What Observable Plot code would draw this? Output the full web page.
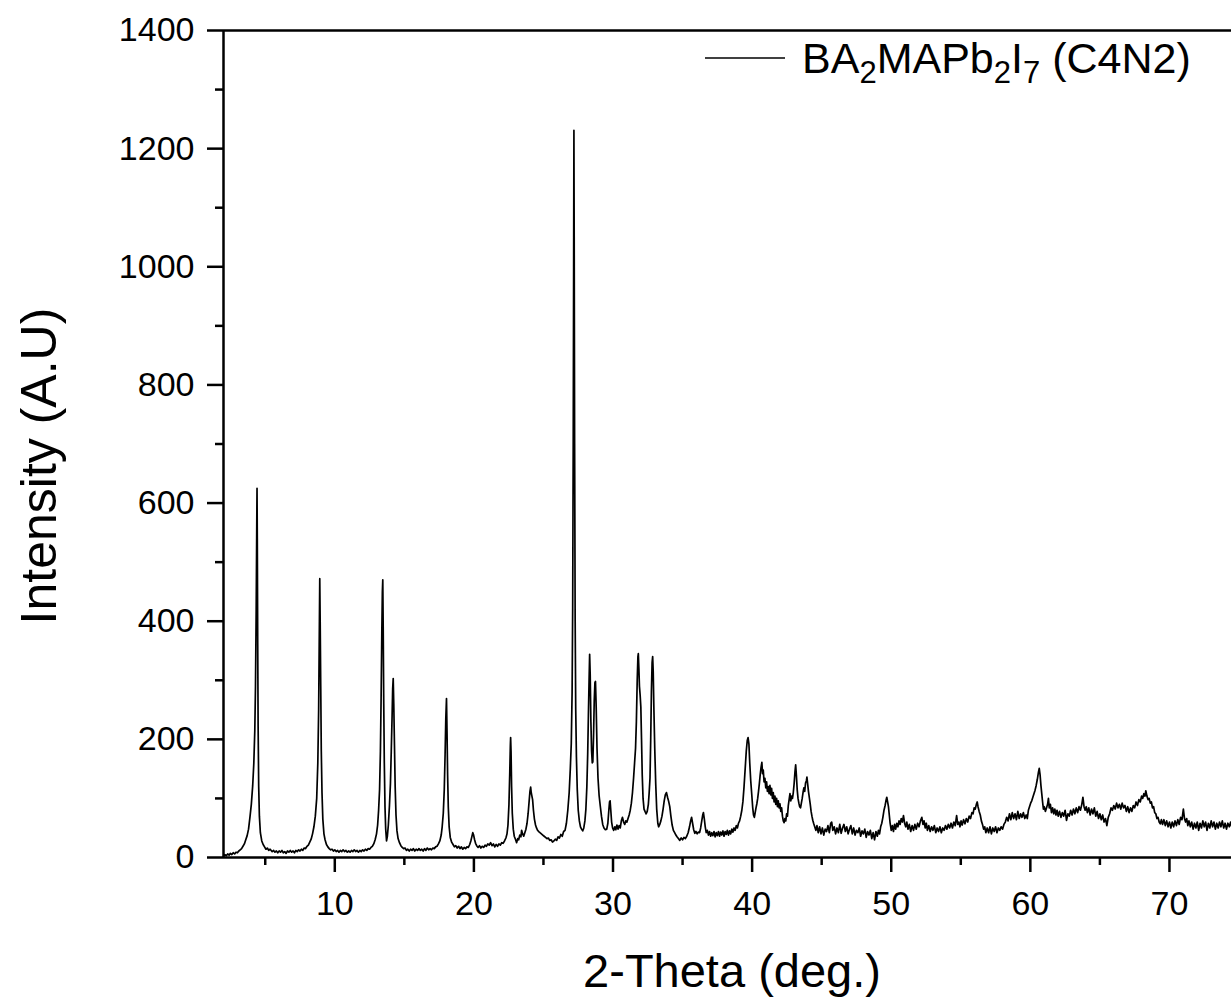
<!DOCTYPE html>
<html><head><meta charset="utf-8">
<script src="https://cdn.jsdelivr.net/npm/d3@7"></script>
<script src="https://cdn.jsdelivr.net/npm/@observablehq/plot@0.6"></script>
<style>
body{margin:0;background:#fff;overflow:hidden}
#chart{width:1231px;height:1000px;overflow:hidden}
#chart svg{overflow:hidden}
</style>
</head><body><div id="chart"></div>
<script>
// 2-Theta (deg.) / Intensity (A.U) pairs
const lowAngle = [[2.0,2],[2.1,5],[2.2,3],[2.3,6],[2.4,4],[2.5,7],[2.6,5],[2.7,8],[2.8,6],[2.9,9],[3.0,8],[3.1,11],[3.2,13],[3.3,15],[3.4,19],[3.5,23],[3.6,30],[3.7,37],[3.8,48],[3.9,68],[4.0,90],[4.1,122],[4.18,160],[4.25,215],[4.3,290],[4.35,420],[4.39,560],[4.41,625],[4.43,540],[4.46,360],[4.49,220],[4.53,120],[4.58,70],[4.65,42],[4.75,28],[4.85,22],[4.95,18],[5.05,14],[5.15,16],[5.25,12],[5.35,14],[5.5,10],[5.6,12],[5.7,9],[5.8,11],[5.9,8],[6.0,11],[6.1,9],[6.2,12],[6.3,8],[6.4,10],[6.5,7],[6.6,11],[6.7,9],[6.8,12],[6.9,9],[7.0,11],[7.1,8],[7.2,12],[7.3,10],[7.4,13],[7.5,11],[7.6,14],[7.7,12],[7.8,16],[7.9,15],[8.0,19],[8.1,21],[8.2,26],[8.3,31],[8.4,40],[8.5,52],[8.6,70],[8.7,100],[8.78,160],[8.84,250],[8.88,360],[8.92,472],[8.95,400],[8.99,290],[9.03,180],[9.08,110],[9.14,65],[9.22,40],[9.3,30],[9.4,22],[9.5,18],[9.6,15],[9.7,13],[9.8,14],[9.9,11],[10.0,13],[10.1,10],[10.2,12],[10.3,9],[10.4,12],[10.5,10],[10.6,13],[10.7,10],[10.8,12],[10.9,9],[11.0,11],[11.1,9],[11.2,12],[11.3,10],[11.4,13],[11.5,10],[11.6,12],[11.7,9],[11.8,12],[11.9,10],[12.0,13],[12.1,11],[12.2,14],[12.3,12],[12.4,15],[12.5,14],[12.6,17],[12.7,19],[12.8,23],[12.9,30],[13.0,40],[13.08,55],[13.15,80],[13.22,115],[13.28,180],[13.33,270],[13.38,380],[13.42,450],[13.45,470],[13.48,390],[13.52,260],[13.56,160],[13.61,85],[13.66,48],[13.72,28],[13.78,36],[13.85,55],[13.93,88],[14.0,125],[14.06,180],[14.12,240],[14.16,285],[14.2,303],[14.24,260],[14.29,190],[14.34,120],[14.4,72],[14.47,45],[14.55,32],[14.65,25],[14.75,20],[14.85,17],[14.95,15],[15.05,16],[15.15,12],[15.25,14],[15.35,11],[15.45,14],[15.55,12],[15.65,15],[15.75,11],[15.85,14],[15.95,12],[16.05,15],[16.15,12],[16.25,14],[16.35,11],[16.45,15],[16.55,12],[16.65,16],[16.75,13],[16.85,15],[16.95,13],[17.05,16],[17.15,15],[17.25,18],[17.35,19],[17.45,23],[17.55,28],[17.65,38],[17.72,52],[17.8,75],[17.87,115],[17.93,175],[17.98,235],[18.03,269],[18.07,210],[18.11,140],[18.16,85],[18.22,52],[18.3,34],[18.4,26],[18.5,22],[18.6,18],[18.7,20],[18.8,16],[18.9,19],[19.0,15],[19.1,18],[19.2,14],[19.3,17],[19.4,15],[19.5,18],[19.6,17],[19.7,22],[19.78,28],[19.85,35],[19.92,42],[19.98,38],[20.05,30]];

const midAngle = [[20.12,24],[20.2,20],[20.3,17],[20.4,20],[20.5,16],[20.6,19],[20.7,17],[20.8,21],[20.9,19],[21.0,23],[21.1,21],[21.2,25],[21.3,20],[21.4,23],[21.5,18],[21.6,22],[21.7,19],[21.8,23],[21.9,21],[22.0,25],[22.1,24],[22.2,28],[22.3,33],[22.38,40],[22.45,55],[22.52,90],[22.58,145],[22.62,190],[22.64,203],[22.67,180],[22.71,120],[22.76,75],[22.83,48],[22.9,36],[23.0,30],[23.07,25],[23.15,32],[23.22,30],[23.3,38],[23.38,35],[23.43,46],[23.5,40],[23.58,36],[23.66,42],[23.74,48],[23.82,58],[23.9,75],[23.97,95],[24.03,112],[24.08,119],[24.12,110],[24.17,104],[24.22,98],[24.28,80],[24.35,65],[24.43,55],[24.5,50],[24.58,46],[24.66,44],[24.75,42],[24.85,40],[24.95,38],[25.05,36],[25.15,34],[25.25,32],[25.35,33],[25.45,29],[25.55,30],[25.65,26],[25.75,28],[25.85,31],[25.95,29],[26.05,35],[26.15,33],[26.25,39],[26.35,36],[26.45,44],[26.55,46],[26.65,58],[26.75,80],[26.85,110],[26.93,150],[27.0,193],[27.06,280],[27.1,420],[27.14,700],[27.17,1000],[27.19,1231],[27.21,1050],[27.24,700],[27.28,400],[27.32,250],[27.37,170],[27.43,115],[27.5,80],[27.58,62],[27.66,52],[27.74,48],[27.82,45],[27.9,50],[27.98,62],[28.05,82],[28.12,120],[28.18,175],[28.23,240],[28.28,300],[28.32,344],[28.36,310],[28.41,230],[28.46,180],[28.51,160],[28.55,162],[28.6,205],[28.65,265],[28.7,296],[28.74,298],[28.79,255],[28.85,185],[28.92,135],[29.0,105],[29.08,88],[29.17,70],[29.26,56],[29.35,50],[29.45,47],[29.55,48],[29.63,58],[29.7,80],[29.75,94],[29.79,96],[29.84,80],[29.9,60],[29.97,50],[30.05,46],[30.13,52],[30.2,47],[30.28,55],[30.36,48],[30.44,54],[30.52,50],[30.6,62],[30.68,68],[30.76,60],[30.84,56],[30.92,62],[31.0,60],[31.08,66],[31.16,72],[31.24,80],[31.32,92],[31.4,110],[31.48,135],[31.55,160],[31.62,185],[31.68,230],[31.74,300],[31.79,340],[31.82,345],[31.86,320],[31.9,290],[31.95,275],[32.0,255],[32.05,200],[32.1,140],[32.16,100],[32.23,82],[32.3,78],[32.38,74],[32.46,78],[32.54,90],[32.6,110],[32.66,135],[32.71,200],[32.76,280],[32.81,330],[32.85,340],[32.89,315],[32.94,250],[33.0,185],[33.07,125],[33.14,82],[33.22,58],[33.28,52],[33.36,56],[33.44,62],[33.52,70],[33.6,82],[33.68,96],[33.76,106],[33.84,110],[33.92,102],[34.0,95],[34.08,86],[34.16,70],[34.25,55],[34.34,46],[34.43,42],[34.52,38],[34.6,35],[34.7,32],[34.8,29],[34.9,33],[35.0,30],[35.1,34],[35.2,32],[35.3,36],[35.4,42],[35.5,52],[35.58,62],[35.65,68],[35.72,58],[35.8,47],[35.88,41],[35.96,44],[36.05,40],[36.14,43],[36.22,42],[36.3,50],[36.38,62],[36.45,72],[36.5,76],[36.56,66],[36.63,52],[36.7,42],[36.78,46],[36.86,38],[36.94,44],[37.02,36],[37.1,42],[37.18,37],[37.26,44],[37.34,35],[37.42,42],[37.5,37],[37.58,44],[37.66,36],[37.74,43],[37.82,38],[37.9,45],[37.98,36],[38.06,44],[38.14,39],[38.22,46],[38.3,38],[38.38,45],[38.46,40],[38.54,48],[38.62,43],[38.7,50],[38.78,46],[38.86,54],[38.94,50],[39.02,58],[39.1,62],[39.18,70],[39.26,80],[39.34,95],[39.42,120],[39.5,150],[39.58,180],[39.65,198],[39.71,203],[39.77,192],[39.83,160],[39.9,130],[39.97,108],[40.04,85],[40.1,72],[40.16,68]];

const highAngle = [[40.22,76],[40.28,84],[40.34,91],[40.4,100],[40.46,112],[40.52,125],[40.58,140],[40.64,152],[40.7,161],[40.75,142],[40.8,148],[40.86,128],[40.92,134],[40.98,118],[41.04,128],[41.1,112],[41.16,120],[41.22,108],[41.28,122],[41.34,106],[41.4,117],[41.46,100],[41.52,110],[41.58,94],[41.64,104],[41.7,90],[41.76,100],[41.82,86],[41.88,96],[41.94,84],[42.0,91],[42.06,78],[42.12,84],[42.18,70],[42.24,62],[42.3,59],[42.36,66],[42.42,62],[42.48,74],[42.54,70],[42.6,88],[42.66,98],[42.72,108],[42.78,96],[42.84,104],[42.9,100],[42.96,110],[43.02,125],[43.08,145],[43.13,157],[43.18,140],[43.24,115],[43.3,100],[43.36,92],[43.42,86],[43.48,84],[43.54,92],[43.6,100],[43.66,110],[43.72,118],[43.78,112],[43.84,126],[43.9,130],[43.94,136],[43.99,125],[44.05,112],[44.12,100],[44.18,90],[44.24,78],[44.3,70],[44.36,63],[44.42,58],[44.5,52],[44.58,46],[44.66,54],[44.75,42],[44.85,52],[44.95,40],[45.05,50],[45.15,38],[45.25,48],[45.35,44],[45.45,54],[45.55,42],[45.65,58],[45.72,60],[45.8,46],[45.9,52],[46.0,40],[46.1,50],[46.2,42],[46.3,56],[46.4,41],[46.5,50],[46.6,56],[46.7,44],[46.8,52],[46.9,40],[47.0,48],[47.1,54],[47.2,40],[47.3,50],[47.4,38],[47.5,46],[47.6,42],[47.7,50],[47.8,36],[47.9,45],[48.0,40],[48.1,48],[48.2,34],[48.3,44],[48.4,38],[48.5,46],[48.6,32],[48.7,42],[48.8,30],[48.9,44],[49.0,36],[49.08,46],[49.16,40],[49.24,52],[49.32,58],[49.4,68],[49.48,80],[49.56,88],[49.62,96],[49.68,102],[49.74,94],[49.8,86],[49.86,72],[49.92,58],[50.0,46],[50.08,54],[50.16,44],[50.24,56],[50.32,48],[50.4,58],[50.48,52],[50.56,62],[50.64,56],[50.72,66],[50.8,60],[50.88,71],[50.96,58],[51.04,52],[51.12,60],[51.2,48],[51.3,56],[51.4,44],[51.5,54],[51.6,46],[51.7,56],[51.8,48],[51.9,58],[52.0,52],[52.1,62],[52.2,68],[52.28,56],[52.36,62],[52.44,50],[52.52,58],[52.6,46],[52.7,54],[52.8,44],[52.9,52],[53.0,46],[53.1,54],[53.2,42],[53.3,50],[53.4,44],[53.5,52],[53.6,42],[53.7,50],[53.8,46],[53.9,54],[54.0,48],[54.1,56],[54.2,50],[54.3,58],[54.4,50],[54.5,60],[54.6,54],[54.7,71],[54.78,56],[54.86,60],[54.94,52],[55.02,62],[55.1,55],[55.2,64],[55.3,57],[55.4,66],[55.5,60],[55.6,70],[55.7,66],[55.8,76],[55.88,74],[55.96,84],[56.04,82],[56.12,90],[56.18,94],[56.24,86],[56.32,78],[56.4,72],[56.48,62],[56.56,56],[56.64,48],[56.72,52],[56.8,42],[56.9,50],[57.0,42],[57.1,52],[57.2,40],[57.3,50],[57.4,44],[57.5,52],[57.6,42],[57.7,50],[57.8,46],[57.9,52],[58.0,48],[58.1,56],[58.2,60],[58.3,68],[58.4,62],[58.5,74],[58.6,64],[58.7,76],[58.8,66],[58.9,74],[59.0,64],[59.1,78],[59.2,66],[59.3,74],[59.4,68],[59.5,76],[59.6,66],[59.7,72],[59.78,66],[59.86,80],[59.94,86],[60.02,92],[60.1,96],[60.18,102],[60.26,108],[60.34,114],[60.42,122],[60.5,132],[60.58,144],[60.64,151],[60.7,140],[60.76,122],[60.82,108],[60.88,94],[60.94,82],[61.0,86],[61.08,78],[61.16,84],[61.24,90],[61.3,100],[61.36,84],[61.44,90],[61.52,76],[61.6,84],[61.68,74],[61.76,82],[61.84,72],[61.92,80],[62.0,70],[62.1,78],[62.2,68],[62.3,76],[62.4,70],[62.5,80],[62.6,63],[62.7,74],[62.8,70],[62.9,80],[63.0,72],[63.1,82],[63.2,74],[63.3,84],[63.4,76],[63.5,86],[63.6,80],[63.7,90],[63.78,102],[63.86,86],[63.94,80],[64.02,86],[64.1,76],[64.2,84],[64.3,72],[64.4,82],[64.5,74],[64.6,84],[64.7,70],[64.8,78],[64.9,66],[65.0,74],[65.1,64],[65.2,72],[65.3,60],[65.4,66],[65.5,54],[65.6,68],[65.7,74],[65.8,84],[65.9,80],[66.0,88],[66.1,82],[66.2,92],[66.3,84],[66.4,90],[66.5,82],[66.6,92],[66.7,84],[66.8,88],[66.9,78],[67.0,86],[67.1,76],[67.2,84],[67.3,78],[67.4,88],[67.5,84],[67.6,94],[67.7,88],[67.8,98],[67.9,94],[68.0,104],[68.08,100],[68.16,108],[68.24,104],[68.3,113],[68.38,104],[68.46,98],[68.54,100],[68.62,92],[68.7,94],[68.78,84],[68.86,86],[68.94,76],[69.02,74],[69.1,66],[69.18,68],[69.26,60],[69.34,57],[69.42,64],[69.5,56],[69.6,64],[69.7,54],[69.8,62],[69.9,52],[70.0,60],[70.1,50],[70.2,60],[70.3,52],[70.4,62],[70.5,54],[70.6,64],[70.7,56],[70.8,68],[70.9,64],[71.0,82],[71.08,66],[71.16,60],[71.24,66],[71.32,54],[71.4,62],[71.5,52],[71.6,60],[71.7,48],[71.8,58],[71.9,50],[72.0,60],[72.1,46],[72.2,58],[72.3,50],[72.4,62],[72.5,52],[72.6,60],[72.7,46],[72.8,58],[72.9,50],[73.0,62],[73.1,52],[73.2,60],[73.3,48],[73.4,58],[73.5,50],[73.6,60],[73.7,52],[73.8,62],[73.9,50],[74.0,58],[74.1,48],[74.2,58],[74.3,52],[74.4,60],[74.5,50],[74.6,56]];

const xMajorTicks = [10, 20, 30, 40, 50, 60, 70];
const xMinorTicks = [5, 15, 25, 35, 45, 55, 65, 75];
const yMajorTicks = [0, 200, 400, 600, 800, 1000, 1200, 1400];
const yMinorTicks = [100, 300, 500, 700, 900, 1100, 1300];
const xTitle = "2-Theta (deg.)";
const yTitle = "Intensity (A.U)";
const seriesName = [["BA", false], ["2", true], ["MAPb", false], ["2", true], ["I", false], ["7", true], [" (C4N2)", false]];

const pattern = [...lowAngle, ...midAngle, ...highAngle].map(([t, i]) => ({t, i}));
const font = "'Liberation Sans', Arial, Helvetica, sans-serif";
const plain = d => String(d);

const chart = Plot.plot({
  width: 1231, height: 1000,
  marginLeft: 223, marginRight: 0, marginTop: 30, marginBottom: 143,
  style: {fontFamily: font, background: "#fff", color: "#000", overflow: "hidden"},
  x: {domain: [2, 74.46]},
  y: {domain: [0, 1400]},
  marks: [
    Plot.line(pattern, {x: "t", y: "i", stroke: "#000", strokeWidth: 1.7}),
    Plot.axisX({ticks: xMinorTicks, tickSize: 8, tickFormat: () => "", label: null, strokeWidth: 2.5}),
    Plot.axisX({ticks: xMajorTicks, tickSize: 15, tickPadding: 18, fontSize: 34, tickFormat: plain, label: null, strokeWidth: 2.5}),
    Plot.axisY({ticks: yMinorTicks, tickSize: 8, tickFormat: () => "", label: null, strokeWidth: 2.5}),
    Plot.axisY({ticks: yMajorTicks, tickSize: 16, tickPadding: 13, fontSize: 34, tickFormat: plain, label: null, strokeWidth: 2.5}),
    Plot.ruleY([0, 1400], {strokeWidth: 2.5}),
    Plot.ruleX([2], {strokeWidth: 2.5})
  ]
});

const svg = d3.select(chart);
svg.append("text")
  .attr("x", 732).attr("y", 987)
  .attr("text-anchor", "middle")
  .attr("font-size", 47).attr("font-family", font).attr("fill", "#000")
  .text(xTitle);
svg.append("text")
  .attr("transform", "translate(56,466) rotate(-90)")
  .attr("text-anchor", "middle")
  .attr("font-size", 50).attr("font-family", font).attr("fill", "#000")
  .text(yTitle);

const legend = svg.append("g");
legend.append("line")
  .attr("x1", 705).attr("x2", 785).attr("y1", 58).attr("y2", 58)
  .attr("stroke", "#000").attr("stroke-width", 1.3);
const lt = legend.append("text")
  .attr("x", 802).attr("y", 73)
  .attr("text-anchor", "start")
  .attr("font-size", 43).attr("font-family", font).attr("fill", "#000");
let shifted = false;
for (const [s, sub] of seriesName) {
  const ts = lt.append("tspan").text(s);
  if (sub && !shifted) { ts.attr("dy", 10).attr("font-size", 31); shifted = true; }
  else if (sub) { ts.attr("font-size", 31); }
  else if (shifted) { ts.attr("dy", -10); shifted = false; }
}

document.getElementById("chart").appendChild(chart);
</script>
</body></html>
